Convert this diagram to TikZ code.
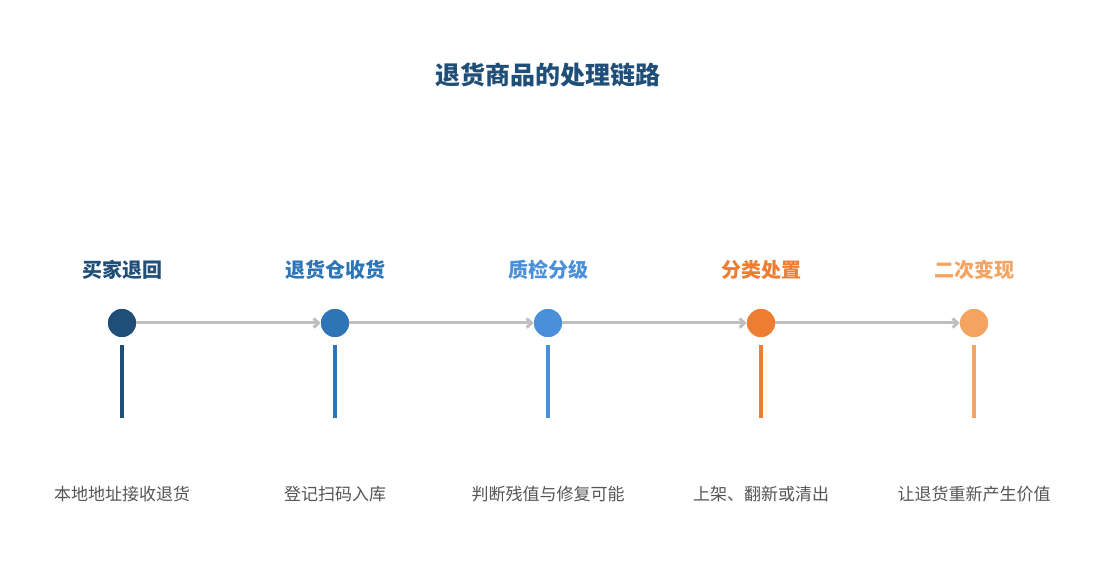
\documentclass[tikz,border=0pt]{standalone}
\usepackage{fontspec}
\setmainfont{Noto Sans CJK SC}
\usetikzlibrary{arrows.meta}
\definecolor{cA}{HTML}{1F4E79}
\definecolor{cB}{HTML}{2E75B6}
\definecolor{cC}{HTML}{4A90D9}
\definecolor{cD}{HTML}{ED7D31}
\definecolor{cE}{HTML}{F4A460}
\definecolor{link}{HTML}{BFBFBF}
\definecolor{desc}{HTML}{555555}
\begin{document}
\begin{tikzpicture}[x=1pt,y=-1pt,
		dot/.style={circle, fill=#1, inner sep=0pt, minimum size=28pt},
		stem/.style={line width=4pt, draw=#1},
		head/.style={text=#1, font=\fontsize{20}{24}\selectfont\bfseries},
		desctext/.style={text=desc, font=\fontsize{17}{20}\selectfont},
		link/.style={draw=link, line width=3pt, -{Straight Barb[length=5pt,width=9pt]}},
		]
		\useasboundingbox (0,0) rectangle (1095,585);
		\node[text=cA, font=\fontsize{25}{30}\selectfont\bfseries] (title) at (548,75) {退货商品的处理链路};
		
		\foreach \i/\x/\c/\h/\d in {1/122/cA/买家退回/本地地址接收退货,
			2/335/cB/退货仓收货/登记扫码入库,
			3/548/cC/质检分级/判断残值与修复可能,
			4/761/cD/分类处置/上架、翻新或清出,
			5/974/cE/二次变现/让退货重新产生价值}{
			\node[head=\c] (h\i) at (\x,270) {\h};
			\node[dot=\c] (n\i) at (\x,323) {};
			\coordinate (s\i) at (\x,345);
			\coordinate (e\i) at (\x,418);
			\draw[stem=\c] (s\i) -- (e\i);
			\node[desctext] (d\i) at (\x,494) {\d};
		}
		
		\foreach \a/\b in {1/2,2/3,3/4,4/5}
			\draw[link] (n\a) -- (n\b);
		
		% re-draw the dots on top of the links
		\foreach \i/\x/\c in {1/122/cA,2/335/cB,3/548/cC,4/761/cD,5/974/cE}
			\node[dot=\c] at (\x,323) {};
	\end{tikzpicture}
\end{document}
